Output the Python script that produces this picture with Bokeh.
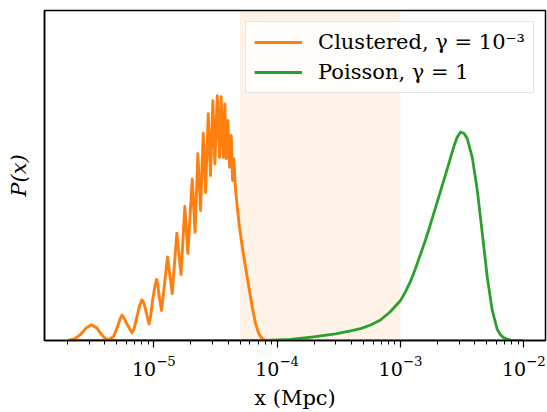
from bokeh.plotting import figure
from bokeh.models import Range1d, BoxAnnotation, FixedTicker
from bokeh.embed import file_html
from bokeh.resources import INLINE

# ---- data ----
clustered_x = [2.00e-6, 2.27e-6, 2.54e-6, 2.84e-6, 3.12e-6, 3.43e-6, 3.77e-6, 4.06e-6,
               4.37e-6, 4.71e-6, 5.08e-6, 5.32e-6, 5.52e-6, 5.73e-6, 6.01e-6, 6.66e-6,
               6.91e-6, 7.24e-6, 7.65e-6, 8.02e-6, 8.33e-6, 8.57e-6, 9.14e-6, 9.40e-6,
               9.76e-6, 1.019e-5, 1.052e-5, 1.076e-5, 1.102e-5, 1.154e-5, 1.222e-5, 1.291e-5,
               1.353e-5, 1.409e-5, 1.472e-5, 1.537e-5, 1.601e-5, 1.662e-5, 1.725e-5, 1.784e-5,
               1.887e-5, 2.049e-5, 2.158e-5, 2.275e-5, 2.392e-5, 2.516e-5, 2.627e-5, 2.762e-5,
               2.883e-5, 3.011e-5, 3.126e-5, 3.269e-5, 3.412e-5, 3.508e-5, 3.655e-5, 3.767e-5,
               3.866e-5, 3.981e-5, 4.110e-5, 4.245e-5, 4.350e-5, 4.457e-5, 4.602e-5, 4.748e-5,
               4.953e-5, 5.215e-5, 5.545e-5, 5.894e-5, 6.280e-5, 6.683e-5, 7.108e-5, 7.470e-5,
               7.90e-5, 8.36e-5, 1.0e-2]
clustered_y = [0, 0.005, 0.018, 0.039, 0.048, 0.039, 0.018, 0.005,
               0.003, 0.012, 0.042, 0.065, 0.077, 0.068, 0.052, 0.023,
               0.035, 0.067, 0.105, 0.123, 0.112, 0.094, 0.050, 0.072,
               0.121, 0.163, 0.185, 0.170, 0.136, 0.091, 0.173, 0.253,
               0.194, 0.142, 0.236, 0.325, 0.258, 0.200, 0.309, 0.406,
               0.264, 0.489, 0.328, 0.566, 0.394, 0.628, 0.449, 0.687,
               0.500, 0.727, 0.535, 0.742, 0.555, 0.739, 0.555, 0.717,
               0.551, 0.667, 0.525, 0.621, 0.485, 0.551, 0.455, 0.404,
               0.343, 0.283, 0.222, 0.162, 0.101, 0.051, 0.020, 0.008,
               0.0015, 0, 0]

poisson_x = [2.0e-6, 8.05e-5, 1.285e-4, 1.973e-4, 2.976e-4, 3.94e-4, 4.75e-4, 5.72e-4,
             6.89e-4, 8.30e-4, 1.0e-3, 1.099e-3, 1.206e-3, 1.324e-3, 1.453e-3, 1.600e-3,
             1.750e-3, 2.110e-3, 2.399e-3, 2.710e-3, 2.876e-3, 3.070e-3, 3.28e-3, 3.48e-3,
             3.82e-3, 4.20e-3, 4.61e-3, 5.06e-3, 5.55e-3, 6.10e-3, 6.49e-3, 6.90e-3,
             7.82e-3, 1.0e-2]
poisson_y = [0, 0.0006, 0.003, 0.011, 0.020, 0.029, 0.036, 0.047,
             0.062, 0.088, 0.121, 0.148, 0.179, 0.218, 0.261, 0.306,
             0.352, 0.452, 0.521, 0.588, 0.615, 0.632, 0.627, 0.612,
             0.555, 0.455, 0.324, 0.191, 0.091, 0.033, 0.017, 0.008,
             0.001, 0]

shade_left = 5e-5
shade_right = 1e-3

major_ticks = [1e-5, 1e-4, 1e-3, 1e-2]
minor_ticks = [m * 10.0 ** e for e in range(-6, -1) for m in range(2, 10)]

labels = ["Clustered, \u03b3 = 10\u207b\u00b3", "Poisson, \u03b3 = 1"]

FONT = "DejaVu Serif"

p = figure(width=547, height=412, x_axis_type="log",
           x_range=Range1d(1.298e-6, 1.5e-2), y_range=Range1d(0, 1),
           output_backend="svg", toolbar_location=None,
           min_border_left=44, min_border_right=2, min_border_top=10, min_border_bottom=72)

p.grid.visible = False
p.outline_line_color = "black"
p.outline_line_width = 1.5
p.outline_line_alpha = 1.0
p.background_fill_color = "white"
p.border_fill_color = "white"

p.add_layout(BoxAnnotation(left=shade_left, right=shade_right, fill_color="#ff7f0e",
                           fill_alpha=0.1, line_alpha=0, level="underlay"))

p.line(clustered_x, clustered_y, line_color="#ff7f0e", line_width=2.9,
       line_join="round", legend_label=labels[0])
p.line(poisson_x, poisson_y, line_color="#2ca02c", line_width=2.8,
       line_join="round", legend_label=labels[1])

xa = p.xaxis[0]
xa.ticker = FixedTicker(ticks=major_ticks, minor_ticks=minor_ticks)
xa.major_tick_in = 0
xa.major_tick_out = 7
xa.minor_tick_in = 0
xa.minor_tick_out = 4
xa.major_tick_line_width = 1.2
xa.minor_tick_line_width = 1.0
xa.axis_line_width = 1.5
xa.axis_line_color = "black"
xa.major_tick_line_color = "black"
xa.minor_tick_line_color = "black"
xa.major_label_text_font = FONT
xa.major_label_text_font_size = "19px"
xa.major_label_text_color = "black"
xa.major_label_standoff = 8
xa.axis_label = "x (Mpc)"
xa.axis_label_text_font = FONT
xa.axis_label_text_font_size = "21px"
xa.axis_label_text_font_style = "normal"
xa.axis_label_text_color = "black"
xa.axis_label_standoff = 7

ya = p.yaxis[0]
ya.ticker = FixedTicker(ticks=[])
ya.major_tick_out = 0
ya.major_tick_in = 0
ya.minor_tick_out = 0
ya.minor_tick_in = 0
ya.axis_line_width = 1.5
ya.axis_line_color = "black"
ya.axis_label = "P(x)"
ya.axis_label_text_font = FONT
ya.axis_label_text_font_size = "21px"
ya.axis_label_text_font_style = "italic"
ya.axis_label_text_color = "black"
ya.axis_label_standoff = 14

lg = p.legend[0]
lg.location = "top_right"
lg.margin = 11
lg.padding = 8
lg.spacing = 6
lg.glyph_width = 48
lg.glyph_height = 20
lg.label_standoff = 16
lg.label_text_font = FONT
lg.label_text_font_size = "21px"
lg.label_text_color = "black"
lg.border_line_color = "#cccccc"
lg.border_line_width = 1.5
lg.background_fill_alpha = 0.8

open("out.html", "w").write(file_html(p, INLINE))
